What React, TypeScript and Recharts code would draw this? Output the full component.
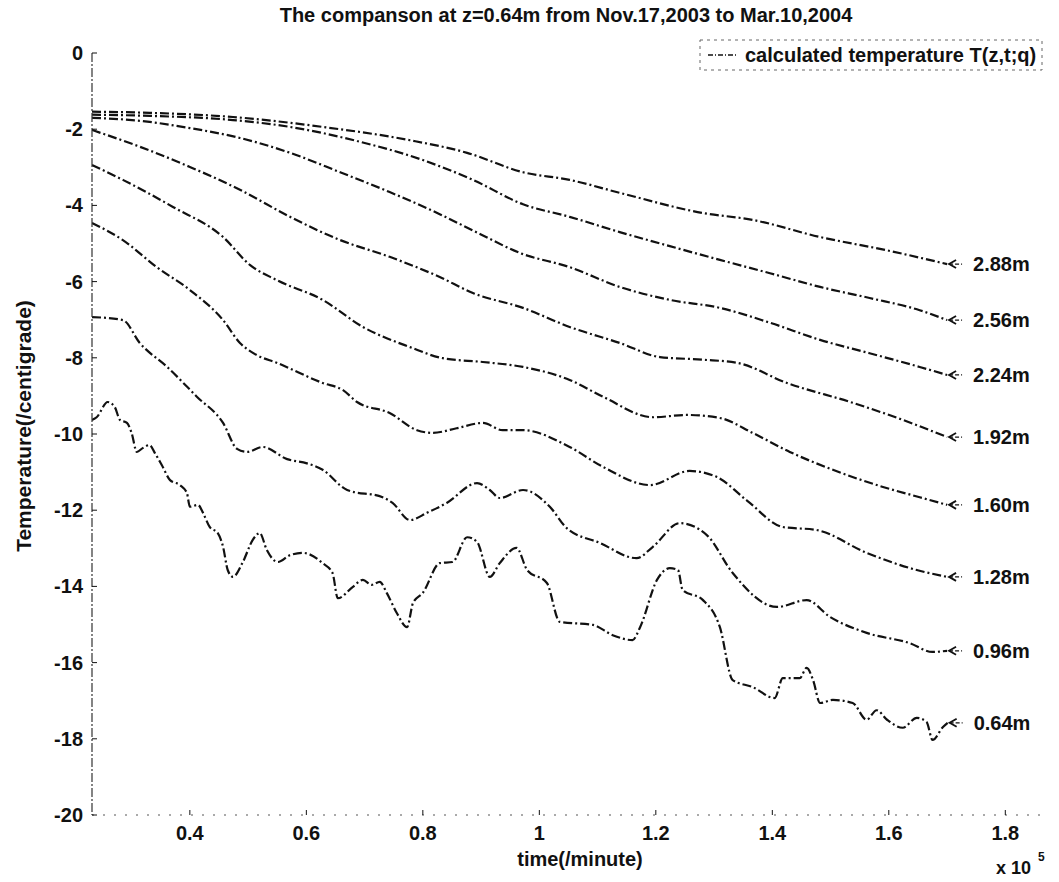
import React from "react";
import { LineChart, Line, XAxis, YAxis } from "recharts";

// time axis (x 10^5 minutes) tick values and temperature ticks
const xTicks = [0.4, 0.6, 0.8, 1, 1.2, 1.4, 1.6, 1.8];
const yTicks = [0, -2, -4, -6, -8, -10, -12, -14, -16, -18, -20];

// depth 2.88 m
const t288 = [0.232, 0.331, 0.474, 0.628, 0.778, 0.876, 0.972, 1.052, 1.138, 1.281, 1.366, 1.482, 1.597, 1.70];
const T288 = [-1.54, -1.57, -1.68, -1.94, -2.29, -2.62, -3.13, -3.33, -3.67, -4.20, -4.38, -4.83, -5.18, -5.54];

// depth 2.56 m
const t256 = [0.232, 0.331, 0.474, 0.572, 0.687, 0.800, 0.886, 0.972, 1.052, 1.138, 1.224, 1.310, 1.396, 1.482, 1.567, 1.653, 1.70];
const T256 = [-1.62, -1.65, -1.76, -1.94, -2.31, -2.81, -3.33, -3.97, -4.30, -4.70, -5.07, -5.43, -5.78, -6.14, -6.43, -6.75, -7.01];

// depth 2.24 m
const t224 = [0.232, 0.314, 0.400, 0.486, 0.572, 0.658, 0.743, 0.829, 0.898, 0.967, 1.052, 1.138, 1.224, 1.310, 1.396, 1.482, 1.567, 1.653, 1.70];
const T224 = [-1.70, -1.78, -1.97, -2.23, -2.62, -3.13, -3.65, -4.23, -4.75, -5.25, -5.62, -6.14, -6.48, -6.69, -7.08, -7.53, -7.88, -8.24, -8.45];

// depth 1.92 m
const t192 = [0.232, 0.314, 0.400, 0.486, 0.572, 0.658, 0.743, 0.829, 0.886, 0.972, 1.052, 1.138, 1.207, 1.281, 1.339, 1.425, 1.538, 1.624, 1.70];
const T192 = [-2.02, -2.46, -2.99, -3.59, -4.30, -4.91, -5.35, -5.88, -6.30, -6.69, -7.19, -7.61, -7.98, -8.05, -8.13, -8.66, -9.18, -9.63, -10.08];

// depth 1.60 m
const t160 = [0.232, 0.285, 0.371, 0.457, 0.503, 0.549, 0.628, 0.697, 0.778, 0.834, 0.903, 0.972, 1.052, 1.109, 1.195, 1.253, 1.310, 1.366, 1.430, 1.504, 1.590, 1.653, 1.70];
const T160 = [-2.94, -3.33, -4.04, -4.83, -5.56, -5.96, -6.48, -7.19, -7.72, -8.01, -8.11, -8.24, -8.58, -9.02, -9.56, -9.50, -9.58, -9.97, -10.47, -10.94, -11.39, -11.66, -11.86];

// depth 1.28 m
const t128 = [0.232, 0.285, 0.343, 0.400, 0.457, 0.486, 0.515, 0.549, 0.628, 0.663, 0.687, 0.743, 0.790, 0.817, 0.858, 0.903, 0.937, 0.972, 1.052, 1.109, 1.190, 1.258, 1.305, 1.356, 1.418, 1.476, 1.562, 1.648, 1.70];
const T128 = [-4.46, -4.91, -5.62, -6.22, -7.01, -7.61, -7.93, -8.13, -8.66, -8.85, -9.16, -9.45, -9.90, -9.97, -9.85, -9.71, -9.90, -9.90, -10.34, -10.86, -11.34, -10.97, -11.13, -11.74, -12.44, -12.52, -13.12, -13.57, -13.75];

// depth 0.96 m
const t096 = [0.232, 0.285, 0.314, 0.361, 0.412, 0.457, 0.481, 0.498, 0.525, 0.567, 0.601, 0.628, 0.670, 0.731, 0.748, 0.778, 0.807, 0.841, 0.893, 0.915, 0.932, 0.972, 1.018, 1.047, 1.104, 1.167, 1.195, 1.241, 1.288, 1.332, 1.408, 1.459, 1.499, 1.562, 1.636, 1.675, 1.70];
const T096 = [-6.93, -7.01, -7.61, -8.24, -9.02, -9.71, -10.39, -10.47, -10.34, -10.66, -10.77, -10.94, -11.47, -11.66, -11.81, -12.26, -12.07, -11.81, -11.29, -11.47, -11.68, -11.47, -11.91, -12.47, -12.86, -13.26, -12.96, -12.34, -12.66, -13.65, -14.54, -14.36, -14.80, -15.22, -15.49, -15.72, -15.69];

// depth 0.64 m
const t064 = [0.232, 0.240, 0.259, 0.271, 0.280, 0.292, 0.300, 0.309, 0.319, 0.331, 0.340, 0.352, 0.366, 0.383, 0.395, 0.400, 0.414, 0.422, 0.434, 0.448, 0.457, 0.465, 0.474, 0.491, 0.508, 0.520, 0.532, 0.551, 0.572, 0.594, 0.628, 0.645, 0.654, 0.680, 0.697, 0.712, 0.726, 0.738, 0.755, 0.773, 0.783, 0.800, 0.829, 0.851, 0.876, 0.893, 0.915, 0.932, 0.961, 0.979, 1.013, 1.035, 1.092, 1.126, 1.160, 1.173, 1.202, 1.224, 1.238, 1.246, 1.281, 1.310, 1.332, 1.366, 1.404, 1.418, 1.447, 1.459, 1.470, 1.482, 1.504, 1.538, 1.562, 1.579, 1.597, 1.624, 1.648, 1.665, 1.675, 1.693, 1.701];
const T064 = [-9.63, -9.56, -9.16, -9.29, -9.63, -9.71, -9.97, -10.47, -10.37, -10.29, -10.50, -10.82, -11.21, -11.34, -11.55, -11.91, -11.86, -12.05, -12.44, -12.60, -12.96, -13.57, -13.75, -13.36, -12.78, -12.60, -13.04, -13.36, -13.18, -13.12, -13.39, -13.65, -14.31, -14.01, -13.83, -13.96, -13.88, -14.17, -14.69, -15.07, -14.44, -14.17, -13.39, -13.36, -12.71, -12.83, -13.75, -13.39, -12.99, -13.57, -13.91, -14.93, -15.01, -15.28, -15.41, -15.07, -13.83, -13.52, -13.57, -14.09, -14.36, -15.07, -16.46, -16.64, -16.93, -16.41, -16.41, -16.14, -16.46, -17.06, -16.98, -17.06, -17.50, -17.25, -17.50, -17.71, -17.45, -17.56, -18.03, -17.69, -17.58];

const depthLabels = ["2.88m", "2.56m", "2.24m", "1.92m", "1.60m", "1.28m", "0.96m", "0.64m"];
const timeSets = [t288, t256, t224, t192, t160, t128, t096, t064];
const tempSets = [T288, T256, T224, T192, T160, T128, T096, T064];

const zip = (ts: number[], vs: number[]) => {
  const n = Math.min(ts.length, vs.length);
  const out: { t: number; v: number }[] = [];
  for (let i = 0; i < n; i++) out.push({ t: ts[i], v: vs[i] });
  return out;
};

const series = depthLabels.map((name, i) => ({ name, data: zip(timeSets[i], tempSets[i]) }));

const FONT = '"Liberation Sans", Arial, Helvetica, sans-serif';
const INK = "#111";
const DASH = "9 3 2 3";

const XTick = (props: any) => {
  const { x, y, payload } = props;
  return (
    <g>
      <line x1={x} y1={y} x2={x} y2={y - 5} stroke={INK} strokeWidth={1} />
      <text x={x} y={y + 25} textAnchor="middle" fontFamily={FONT} fontWeight="bold" fontSize={20} fill={INK}>
        {String(payload.value)}
      </text>
    </g>
  );
};

const YTick = (props: any) => {
  const { x, y, payload } = props;
  return (
    <g>
      <line x1={x} y1={y} x2={x + 5} y2={y} stroke={INK} strokeWidth={1} />
      <text x={x - 9} y={y + 7} textAnchor="end" fontFamily={FONT} fontWeight="bold" fontSize={20} fill={INK}>
        {String(payload.value)}
      </text>
    </g>
  );
};

const makeEndLabel = (name: string, last: number) => (p: any) => {
  if (p.index !== last) return <g key={`e-${name}-${p.index}`} />;
  const x = Number(p.x);
  const y = Number(p.y);
  return (
    <g key={`end-${name}`}>
      <path d={`M ${x + 9} ${y - 4} L ${x + 2} ${y} L ${x + 9} ${y + 4}`} fill="none" stroke={INK} strokeWidth={1.8} />
      <line x1={x + 2} y1={y} x2={x + 15} y2={y} stroke={INK} strokeWidth={1.2} strokeDasharray="4 2" />
      <text x={x + 26} y={y + 7} fontFamily={FONT} fontWeight="bold" fontSize={20} fill={INK}>
        {name}
      </text>
    </g>
  );
};

export default function App() {
  return (
    <div style={{ position: "absolute", left: 0, top: 0, width: 1059, height: 882, background: "#fff" }}>
      <LineChart width={1059} height={882} margin={{ top: 53, right: 17, bottom: 0, left: 0 }}>
        <XAxis
          type="number"
          dataKey="t"
          domain={[0.232, 1.863]}
          ticks={xTicks}
          allowDataOverflow
          interval={0}
          height={67}
          tickSize={0}
          tickMargin={0}
          tickLine={false}
          tick={(p: any) => <XTick {...p} />}
          axisLine={{ stroke: "#555", strokeWidth: 1, strokeDasharray: "2 9" }}
        />
        <YAxis
          type="number"
          domain={[-20, 0]}
          ticks={yTicks}
          allowDataOverflow
          interval={0}
          width={92}
          tickSize={0}
          tickMargin={0}
          tickLine={false}
          tick={(p: any) => <YTick {...p} />}
          axisLine={{ stroke: "#333", strokeWidth: 1.2, strokeDasharray: "9 2 2 2" }}
        />
        {series.map((s) => (
          <Line
            key={s.name}
            data={s.data}
            dataKey="v"
            name={s.name}
            type="monotone"
            stroke={INK}
            strokeWidth={2.2}
            strokeDasharray={DASH}
            dot={false}
            activeDot={false}
            isAnimationActive={false}
            label={makeEndLabel(s.name, s.data.length - 1)}
          />
        ))}
      </LineChart>
      <svg
        width={1059}
        height={882}
        style={{ position: "absolute", left: 0, top: 0, pointerEvents: "none" }}
      >
        <text x={566} y={22} textAnchor="middle" fontFamily={FONT} fontWeight="bold" fontSize={20} fill={INK}>
          The companson at z=0.64m from Nov.17,2003 to Mar.10,2004
        </text>
        <rect x={700} y={40} width={342} height={30} fill="#fff" stroke="#666" strokeWidth={1} strokeDasharray="3 4" />
        <line x1={708} y1={55} x2={738} y2={55} stroke={INK} strokeWidth={1.5} strokeDasharray="5 2 1 2" />
        <text x={745} y={62} fontFamily={FONT} fontWeight="bold" fontSize={20} fill={INK}>
          calculated temperature T(z,t;q)
        </text>
        <text
          transform="translate(31,426) rotate(-90)"
          textAnchor="middle"
          fontFamily={FONT}
          fontWeight="bold"
          fontSize={21}
          fill={INK}
        >
          Temperature(/centigrade)
        </text>
        <text x={580} y={866} textAnchor="middle" fontFamily={FONT} fontWeight="bold" fontSize={20} fill={INK}>
          time(/minute)
        </text>
        <text x={996} y={874} fontFamily={FONT} fontWeight="bold" fontSize={18} fill={INK}>
          x 10
        </text>
        <text x={1038} y={861} fontFamily={FONT} fontWeight="bold" fontSize={12} fill={INK}>
          5
        </text>
      </svg>
    </div>
  );
}
